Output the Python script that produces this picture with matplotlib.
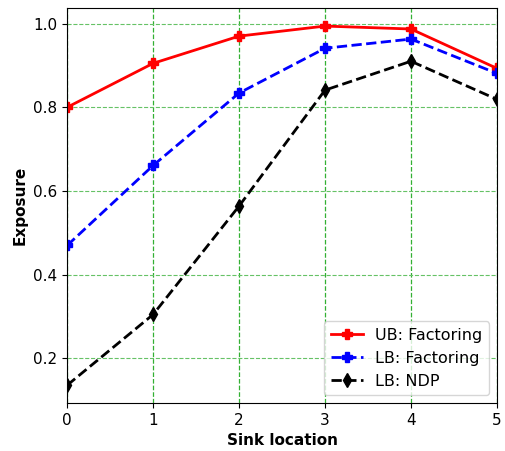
import matplotlib
matplotlib.use("Agg")
import matplotlib.pyplot as plt

sink = [0, 1, 2, 3, 4, 5]
ub_factoring = [0.800, 0.905, 0.970, 0.994, 0.987, 0.893]
lb_factoring = [0.470, 0.661, 0.834, 0.941, 0.963, 0.881]
lb_ndp = [0.136, 0.305, 0.564, 0.841, 0.910, 0.819]

fig = plt.figure(figsize=(5.05, 4.51), dpi=100)
ax = fig.add_axes([0.133, 0.106, 0.851, 0.876])

ax.plot(sink, ub_factoring, color='red', linestyle='-', marker='P', markersize=7, linewidth=2, label='UB: Factoring')
ax.plot(sink, lb_factoring, color='blue', linestyle='--', marker='P', markersize=7, linewidth=2, label='LB: Factoring')
ax.plot(sink, lb_ndp, color='black', linestyle='--', marker='d', markersize=7, linewidth=2, label='LB: NDP')

ax.set_xlim(0, 5)
ax.set_xticks(sink)
ax.set_yticks([0.2, 0.4, 0.6, 0.8, 1.0])
ax.xaxis.grid(True, color='#33b033', linestyle='--', linewidth=0.9)
ax.yaxis.grid(True, color='#66c266', linestyle='--', linewidth=0.8)
ax.set_xlabel('Sink location', fontsize=11, fontweight='bold')
ax.set_ylabel('Exposure', fontsize=11, fontweight='bold')
ax.tick_params(labelsize=11)
ax.legend(loc='lower right', fontsize=11.5)

fig.savefig('out.png', dpi=100)
